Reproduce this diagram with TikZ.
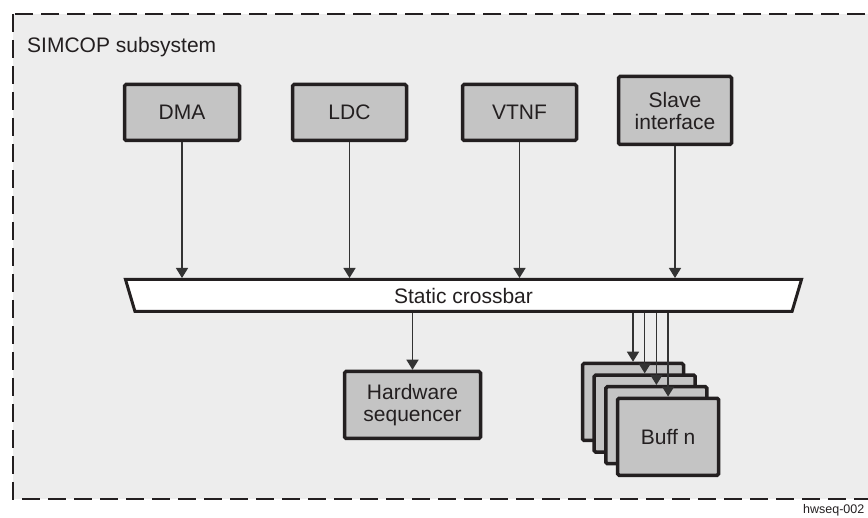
\documentclass[tikz,border=0pt]{standalone}
\usepackage{fontspec}
\setsansfont{Liberation Sans}
\usetikzlibrary{arrows.meta, shapes.geometric}
\definecolor{cink}{HTML}{231F20}
\definecolor{cline}{HTML}{333333}
\definecolor{cbox}{HTML}{C4C4C4}
\definecolor{cbg}{HTML}{EDEDED}
\tikzset{
  every picture/.style={font=\sffamily\fontsize{21}{22}\selectfont},
  block/.style={draw=cink, fill=cbox, line width=3.5pt, rounded corners=1.5pt, align=center, text=cink, inner sep=0pt, minimum width=#1},
  block/.default=114pt,
  xbar/.style={trapezium, shape border rotate=180, trapezium angle=66.8, trapezium stretches body=true, draw=cink, fill=white, line width=3pt, minimum width=676pt, minimum height=32pt, text=cink},
  arrow/.style={-{Triangle[length=10pt, width=12pt]}, draw=cline, line width=1.3pt},
  label/.style={anchor=base west, inner sep=0pt, text=cink},
}

\begin{document}
\begin{tikzpicture}[x=1pt, y=-1pt]
  \useasboundingbox (0,0) rectangle (868,518);
  \clip (0,0) rectangle (868,518);
  % subsystem frame
  \draw[cink, fill=cbg, line width=2.5pt, dash pattern=on 18pt off 8pt] (13,14) rectangle (890,499);
  \node[label] (title) at (27,53) {SIMCOP subsystem};
  % masters
  \node[block=115pt, minimum height=56pt] (dma) at (182,112.5) {DMA};
  \node[block, minimum height=56pt] (ldc) at (349.5,112.5) {LDC};
  \node[block, minimum height=56pt] (vtnf) at (519.5,112.5) {VTNF};
  \node[block=113pt, minimum height=68pt] (slave) at (675,110.5) {Slave\\interface};
  % crossbar
  \node[xbar] (xbar) at (463.5,295.5) {Static crossbar};
  % slaves
  \node[block=136pt, minimum height=67pt] (hws) at (412.5,405) {Hardware\\sequencer};
  \foreach \i in {1,2,3}
    \node[block=101pt, minimum height=77pt] (buf\i) at ({633+11.7*(\i-1)},{402+11.6*(\i-1)}) {};
  \node[block=101pt, minimum height=77pt] (buf4) at (668.1,436.8) {Buff n};
  % connections
  \foreach \m in {dma, ldc, vtnf, slave}
    \draw[arrow] (\m.south) -- (\m.south |- xbar.north);
  \draw[arrow] (xbar.south -| hws.north) -- (hws.north);
  \foreach \i in {1,...,4}
    \draw[arrow] (xbar.south -| buf\i.north) -- (buf\i.north);
  \node[label, font=\sffamily\fontsize{12.5}{14}\selectfont] (tag) at (803,514) {hwseq-002};
\end{tikzpicture}
\end{document}
